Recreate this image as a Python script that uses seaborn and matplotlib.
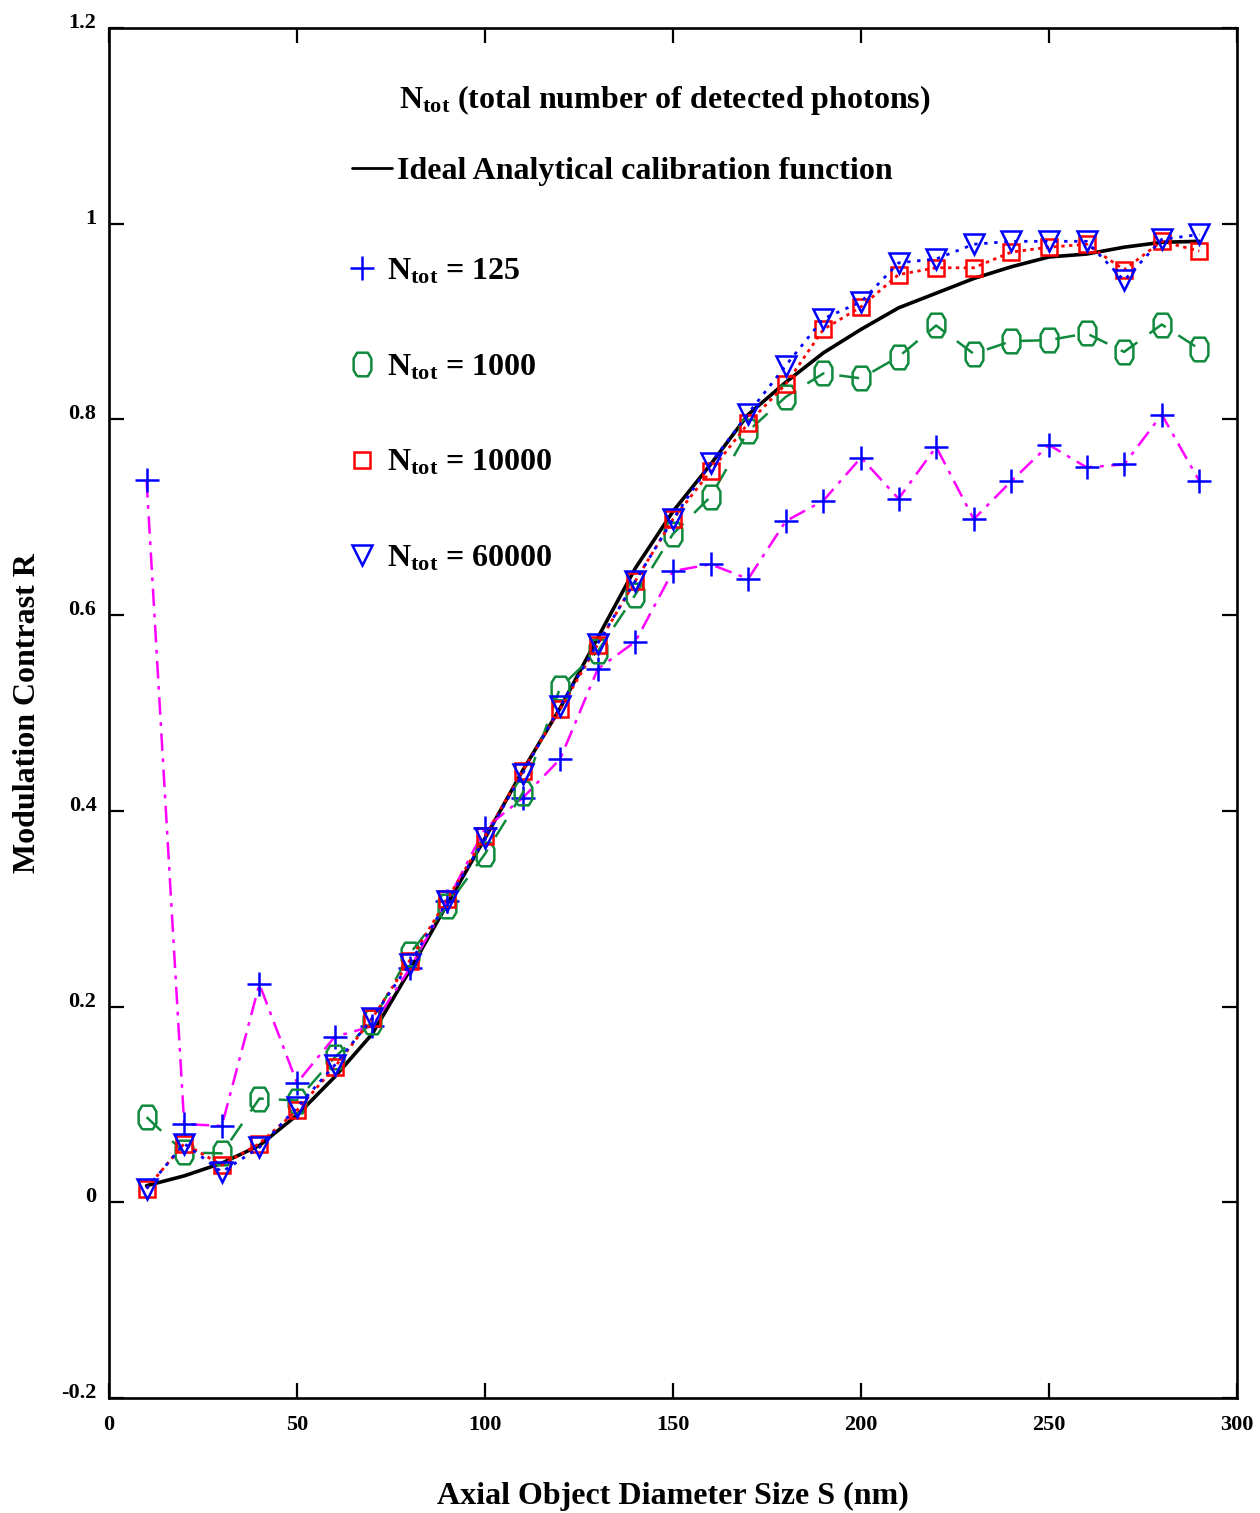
import numpy as np
import pandas as pd
import matplotlib
matplotlib.use("Agg")
import matplotlib.pyplot as plt
from matplotlib.lines import Line2D
import seaborn as sns

# Dati
SIZES = [10, 20, 30, 40, 50, 60, 70, 80, 90, 100, 110, 120, 130, 140, 150,
         160, 170, 180, 190, 200, 210, 220, 230, 240, 250, 260, 270, 280, 290]

IDEAL = [0.017, 0.027, 0.040, 0.058, 0.089, 0.128, 0.172, 0.237, 0.305, 0.372,
         0.441, 0.505, 0.577, 0.648, 0.706, 0.754, 0.805, 0.838, 0.868, 0.892,
         0.914, 0.929, 0.944, 0.956, 0.966, 0.969, 0.976, 0.981, 0.982]

N125 = [0.738, 0.080, 0.078, 0.223, 0.122, 0.169, 0.180, 0.239, 0.308, 0.382,
        0.413, 0.453, 0.545, 0.573, 0.645, 0.652, 0.637, 0.696, 0.717, 0.761,
        0.719, 0.772, 0.698, 0.737, 0.774, 0.751, 0.754, 0.805, 0.737]

N1000 = [0.087, 0.051, 0.050, 0.106, 0.104, 0.148, 0.184, 0.254, 0.303, 0.356,
         0.418, 0.526, 0.563, 0.621, 0.683, 0.721, 0.788, 0.823, 0.847, 0.842,
         0.864, 0.896, 0.867, 0.880, 0.881, 0.888, 0.869, 0.897, 0.872]

N10000 = [0.014, 0.060, 0.038, 0.060, 0.094, 0.138, 0.188, 0.247, 0.310, 0.374,
          0.441, 0.504, 0.570, 0.635, 0.698, 0.747, 0.796, 0.836, 0.892, 0.915,
          0.948, 0.955, 0.955, 0.971, 0.976, 0.979, 0.953, 0.982, 0.972]

N60000 = [0.014, 0.060, 0.031, 0.056, 0.097, 0.140, 0.188, 0.244, 0.308, 0.372,
          0.438, 0.507, 0.571, 0.635, 0.698, 0.755, 0.806, 0.855, 0.903, 0.920,
          0.960, 0.964, 0.979, 0.982, 0.982, 0.982, 0.942, 0.984, 0.989]

X_TICKS = [0, 50, 100, 150, 200, 250, 300]
Y_TICKS = [-0.2, 0, 0.2, 0.4, 0.6, 0.8, 1.0, 1.2]
Y_TICK_LABELS = ["-0.2", "0", "0.2", "0.4", "0.6", "0.8", "1", "1.2"]

sns.set_theme(style="ticks")
plt.rcParams["font.family"] = ["Liberation Serif", "DejaVu Serif"]
plt.rcParams["font.weight"] = "bold"
plt.rcParams["text.color"] = "black"
plt.rcParams["axes.labelcolor"] = "black"
plt.rcParams["xtick.color"] = "black"
plt.rcParams["ytick.color"] = "black"
plt.rcParams["mathtext.fontset"] = "custom"
plt.rcParams["mathtext.rm"] = "Liberation Serif:bold"
plt.rcParams["mathtext.it"] = "Liberation Serif:bold"
plt.rcParams["mathtext.bf"] = "Liberation Serif:bold"

GREEN = "#0f8a3c"
FS = 23

# marker "ottagono allungato" per N=1000
OCT = [(-0.45, -1.0), (0.45, -1.0), (0.75, -0.5), (0.75, 0.5), (0.45, 1.0),
       (-0.45, 1.0), (-0.75, 0.5), (-0.75, -0.5), (-0.45, -1.0)]

df = pd.DataFrame({"S": SIZES, "ideal": IDEAL, "n125": N125, "n1000": N1000,
                   "n10000": N10000, "n60000": N60000})

fig = plt.figure(figsize=(12.6, 15.13), dpi=100)
ax = fig.add_axes([0.0865, 0.076, 0.8952, 0.9055])

sns.lineplot(data=df, x="S", y="ideal", ax=ax, color="black", lw=2.6, zorder=2)
sns.lineplot(data=df, x="S", y="n125", ax=ax, color="magenta", lw=1.8,
             linestyle=(0, (7, 3, 1.5, 3)), marker="+", markersize=17,
             mec="blue", mew=1.8, zorder=3)
sns.lineplot(data=df, x="S", y="n1000", ax=ax, color=GREEN, lw=1.8,
             linestyle=(0, (8, 6)), marker=OCT, markersize=17, mfc="none",
             mec=GREEN, mew=1.8, zorder=3)
sns.lineplot(data=df, x="S", y="n10000", ax=ax, color="red", lw=2.0,
             linestyle=(0, (1.2, 1.6)), marker="s", markersize=12, mfc="none",
             mec="red", mew=1.8, zorder=4)
sns.lineplot(data=df, x="S", y="n60000", ax=ax, color="blue", lw=2.0,
             linestyle=(0, (1.2, 2.4)), marker="v", markersize=15, mfc="none",
             mec="blue", mew=1.8, zorder=5)

ax.set_xlim(0, 300)
ax.set_ylim(-0.2, 1.2)
ax.set_xticks(X_TICKS)
ax.set_yticks(Y_TICKS)
ax.set_yticklabels(Y_TICK_LABELS)
for lab in ax.get_yticklabels():
    lab.set_va("baseline")

for side in ax.spines.values():
    side.set_linewidth(1.9)
    side.set_color("black")
ax.tick_params(direction="in", top=True, right=True, length=11, width=1.6,
               labelsize=16)
ax.tick_params(axis="x", pad=12)
ax.tick_params(axis="y", pad=9)

ax.set_xlabel("Axial Object Diameter Size S (nm)", fontsize=FS,
              fontweight="bold", labelpad=34)
ax.set_ylabel("Modulation Contrast R", fontsize=FS, fontweight="bold",
              labelpad=14)

# Legenda
ax.text(0.257, 0.9478, r"$\mathrm{N_{tot}}$ (total number of detected photons)",
        transform=ax.transAxes, fontsize=FS, fontweight="bold", va="center")

leg1 = ax.legend([Line2D([], [], color="black", lw=2.0)],
                 ["Ideal Analytical calibration function"],
                 loc="upper left", bbox_to_anchor=(0.2154, 0.9063),
                 frameon=False, handlelength=1.25, handletextpad=0.15,
                 borderpad=0, borderaxespad=0,
                 prop={"weight": "bold", "size": FS})
ax.add_artist(leg1)

handles = [
    Line2D([], [], color="blue", ls="none", marker="+", markersize=17, mew=1.8),
    Line2D([], [], color=GREEN, ls="none", marker=OCT, markersize=17,
           mfc="none", mew=1.8),
    Line2D([], [], color="red", ls="none", marker="s", markersize=12,
           mfc="none", mew=1.8),
    Line2D([], [], color="blue", ls="none", marker="v", markersize=15,
           mfc="none", mew=1.8),
]
labels = [
    r"$\mathrm{N_{tot}}$ = 125",
    r"$\mathrm{N_{tot}}$ = 1000",
    r"$\mathrm{N_{tot}}$ = 10000",
    r"$\mathrm{N_{tot}}$ = 60000",
]
ax.legend(handles, labels, loc="upper left", bbox_to_anchor=(0.2175, 0.8328),
          frameon=False, handlelength=0.5, handletextpad=0.52,
          labelspacing=2.07, borderpad=0, borderaxespad=0,
          prop={"weight": "bold", "size": FS})

fig.savefig("out.png", dpi=100)
